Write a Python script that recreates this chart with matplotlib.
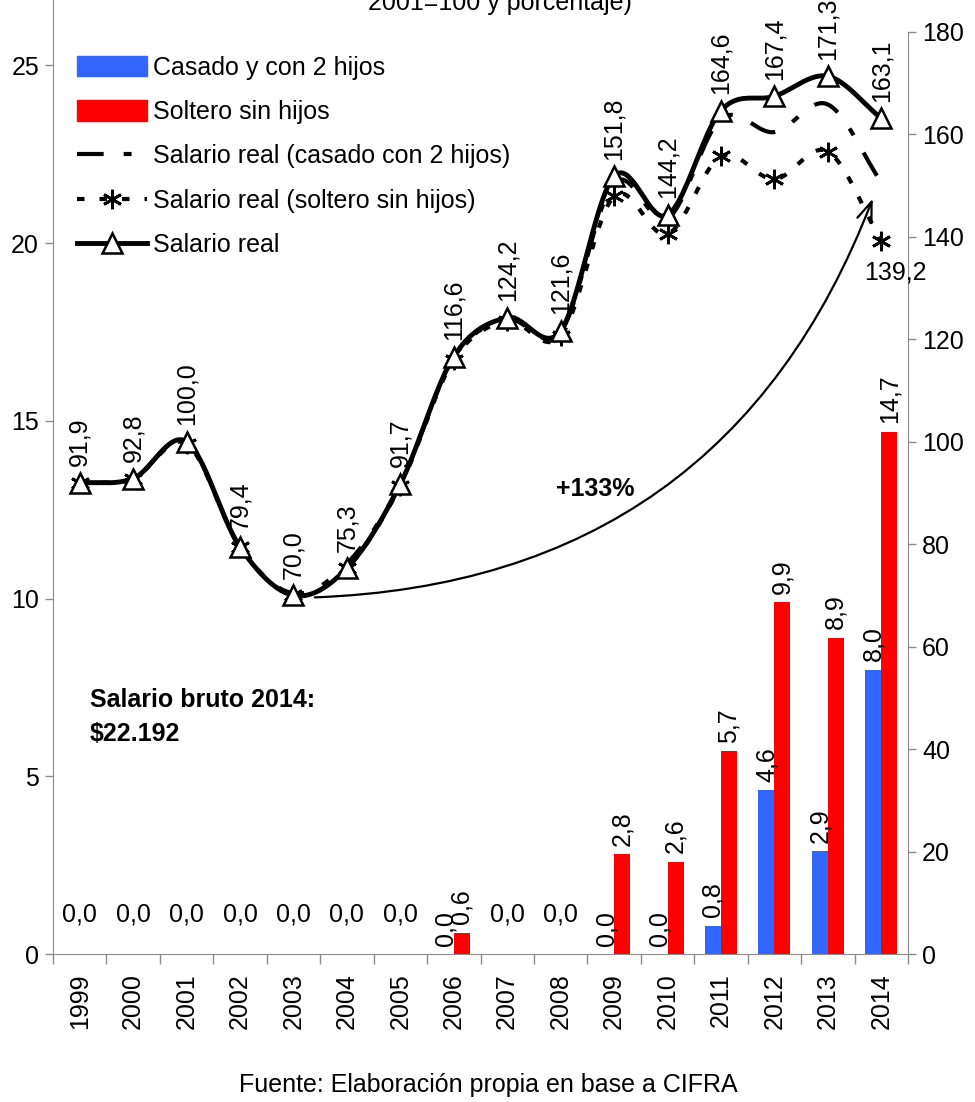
import numpy as np
import matplotlib
matplotlib.use("Agg")
import matplotlib.pyplot as plt
from matplotlib.patches import Patch
from matplotlib.lines import Line2D

plt.rcParams['font.family'] = ['Liberation Sans Narrow', 'Liberation Sans', 'DejaVu Sans']
plt.rcParams['font.size'] = 18

years = ['1999', '2000', '2001', '2002', '2003', '2004', '2005', '2006',
         '2007', '2008', '2009', '2010', '2011', '2012', '2013', '2014']

# bars (left axis, %)
casado_pct = [0, 0, 0, 0, 0, 0, 0, 0, 0, 0, 0, 0, 0.8, 4.6, 2.9, 8.0]
soltero_pct = [0, 0, 0, 0, 0, 0, 0, 0.6, 0, 0, 2.8, 2.6, 5.7, 9.9, 8.9, 14.7]

# lines (right axis, 2001=100)
salario_real = [91.9, 92.8, 100.0, 79.4, 70.0, 75.3, 91.7, 116.6,
                124.2, 121.6, 151.8, 144.2, 164.6, 167.4, 171.3, 163.1]
real_casado = [91.9, 92.8, 100.0, 79.4, 70.4, 76.2, 91.7, 116.4,
               123.8, 121.4, 150.5, 143.5, 163.0, 160.4, 165.8, 150.6]
real_soltero = [91.9, 92.8, 99.6, 79.4, 70.0, 75.3, 91.4, 116.0,
                123.5, 120.6, 147.9, 140.5, 155.7, 151.2, 156.6, 139.2]


def fmt(v):
    return f"{v:.1f}".replace('.', ',')


def smooth(xs, ys, n=24):
    # catmull-rom style curve through the points (like excel smoothed lines)
    xs = np.asarray(xs, float)
    ys = np.asarray(ys, float)
    px = np.concatenate([[2 * xs[0] - xs[1]], xs, [2 * xs[-1] - xs[-2]]])
    py = np.concatenate([[2 * ys[0] - ys[1]], ys, [2 * ys[-1] - ys[-2]]])
    ox, oy = [], []
    t = np.linspace(0, 1, n, endpoint=False)
    for i in range(1, len(px) - 2):
        for p, o in ((px, ox), (py, oy)):
            p0, p1, p2, p3 = p[i - 1], p[i], p[i + 1], p[i + 2]
            o.extend(0.5 * ((2 * p1) + (-p0 + p2) * t
                            + (2 * p0 - 5 * p1 + 4 * p2 - p3) * t ** 2
                            + (-p0 + 3 * p1 - 3 * p2 + p3) * t ** 3))
    ox.append(xs[-1])
    oy.append(ys[-1])
    return np.array(ox), np.array(oy)


W, H = 975, 1102
fig = plt.figure(figsize=(W / 100, H / 100), dpi=100)

x0, x1, ybot = 53, 908, 954
ax = fig.add_axes([x0 / W, 1 - ybot / H, (x1 - x0) / W, ybot / H])
ax2 = fig.add_axes([x0 / W, 1 - ybot / H, (x1 - x0) / W, (ybot - 31.7) / H], sharex=ax)
ax2.patch.set_alpha(0)

x = np.arange(len(years))
bw = 0.3
gray = '#8c8c8c'

ax.bar(x - bw / 2, casado_pct, bw, color='#3366ff', label='Casado y con 2 hijos')
ax.bar(x + bw / 2, soltero_pct, bw, color='#ff0000', label='Soltero sin hijos')

ax.set_xlim(-0.5, len(years) - 0.5)
ax.set_ylim(0, 26.84)
ax.set_yticks([0, 5, 10, 15, 20, 25])
ax.set_xticks(x)
ax.set_xticklabels(years, rotation=90)
ax.set_xticks(np.arange(-0.5, len(years)), minor=True)
ax.tick_params(axis='x', which='major', length=0, pad=14)
ax.tick_params(axis='x', which='minor', length=7, color=gray, width=1)
ax.tick_params(axis='y', length=6, color=gray, width=1, pad=4)
for s in ['top', 'right']:
    ax.spines[s].set_visible(False)
for s in ['left', 'bottom']:
    ax.spines[s].set_color(gray)

# bar labels
for i in range(len(years)):
    c, s = casado_pct[i], soltero_pct[i]
    if c == 0 and s == 0:
        ax.text(x[i], 1.1, fmt(0), ha='center', va='center')
    else:
        ax.annotate(fmt(c), (x[i] - bw / 2, c), xytext=(0, 6), textcoords='offset points',
                    rotation=90, ha='center', va='bottom')
        ax.annotate(fmt(s), (x[i] + bw / 2, s), xytext=(0, 6), textcoords='offset points',
                    rotation=90, ha='center', va='bottom')

# lines on right axis
sx, sy = smooth(x, real_casado)
ax2.plot(sx, sy, color='black', lw=3, linestyle=(0, (6.4, 4.8, 1.9, 4.8)))
sx, sy = smooth(x, real_soltero)
ax2.plot(sx, sy, color='black', lw=3, linestyle=(0, (1.8, 3.6)))
ax2.plot(x, real_soltero, ls='none', marker=(6, 2, 0), ms=14, mew=2, color='black')
sx, sy = smooth(x, salario_real)
ax2.plot(sx, sy, color='black', lw=3.5, solid_capstyle='round')
ax2.plot(x, salario_real, ls='none', marker='^', ms=14, mfc='white', mec='black', mew=1.8)

for i, v in enumerate(salario_real):
    ax2.annotate(fmt(v), (x[i], v), xytext=(0, 12), textcoords='offset points',
                 rotation=90, ha='center', va='bottom', annotation_clip=False)
ax2.annotate(fmt(real_soltero[-1]), (x[-1], real_soltero[-1]), xytext=(10, -14),
             textcoords='offset points', ha='center', va='top', annotation_clip=False)

ax2.set_ylim(0, 180)
ax2.set_yticks(range(0, 181, 20))
ax2.yaxis.tick_right()
ax2.tick_params(axis='y', length=6, color=gray, width=1, pad=4)
ax2.tick_params(axis='x', which='both', bottom=False, labelbottom=False)
for s in ['top', 'left', 'bottom']:
    ax2.spines[s].set_visible(False)
ax2.spines['right'].set_color(gray)

# curved arrow
ax2.annotate('', xy=(14.84, 147.4), xytext=(4.40, 69.6),
             arrowprops=dict(arrowstyle='->,head_length=0.8,head_width=0.3',
                             connectionstyle='arc3,rad=0.33', lw=1.6, color='black',
                             shrinkA=0, shrinkB=0))
ax2.text(9.64, 90.7, '+133%', ha='center', va='center', fontweight='bold')
fig.text(90 / W, 1 - 688 / H, 'Salario bruto 2014:\n$22.192', ha='left', va='top',
         fontweight='bold', linespacing=1.55)

handles = [
    Patch(color='#3366ff', label='Casado y con 2 hijos'),
    Patch(color='#ff0000', label='Soltero sin hijos'),
    Line2D([], [], color='black', lw=3, linestyle=(0, (6.4, 4.8, 1.9, 4.8)),
           label='Salario real (casado con 2 hijos)'),
    Line2D([], [], color='black', lw=3, linestyle=(0, (1.8, 3.6)), marker=(6, 2, 0),
           ms=14, mew=2, label='Salario real (soltero sin hijos)'),
    Line2D([], [], color='black', lw=3.5, marker='^', ms=14, mfc='white', mec='black',
           mew=1.8, label='Salario real'),
]
fig.legend(handles=handles, loc='upper left', bbox_to_anchor=(64 / W, 1 - 43 / H),
           frameon=False, handlelength=2.8, handleheight=0.9, handletextpad=0.25,
           labelspacing=0.82, borderpad=0)

fig.text(500 / W, 1 - 10 / H, '2001=100 y porcentaje)', ha='center', va='baseline')
fig.text(488 / W, 1 - 1085 / H, 'Fuente: Elaboración propia en base a CIFRA',
         ha='center', va='center')

fig.savefig('out.png', dpi=100)
